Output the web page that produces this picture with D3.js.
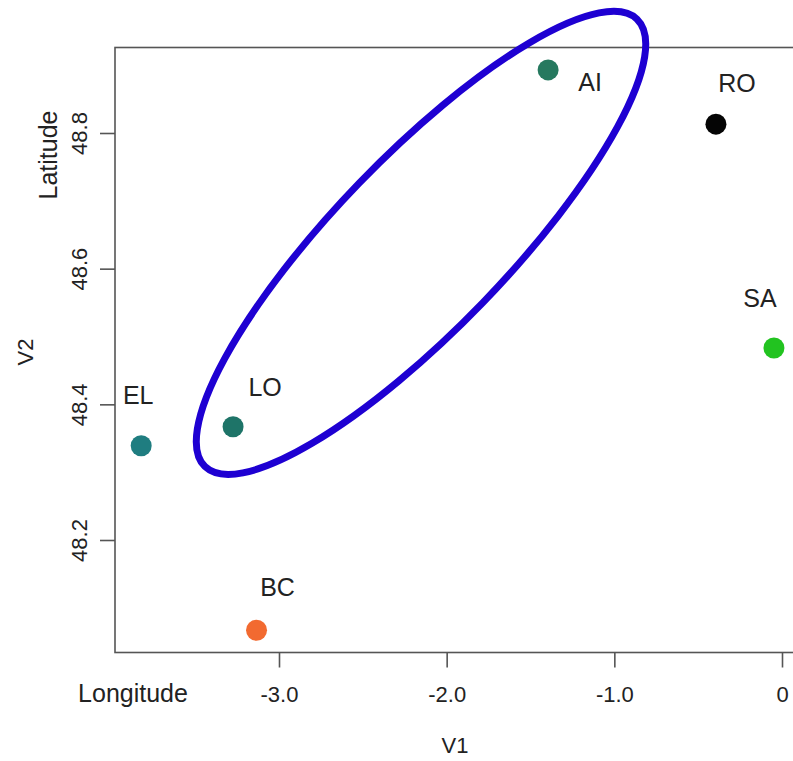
<!DOCTYPE html>
<html>
<head>
<meta charset="utf-8">
<script src="https://cdn.jsdelivr.net/npm/d3@7"></script>
<style>
  body { margin: 0; background: #fff; }
  text { font-family: "Liberation Sans", Arial, sans-serif; fill: #222; }
</style>
</head>
<body>
<div id="chart"></div>
<script>
// Data
const sites = ["AI", "RO", "SA", "LO", "EL", "BC"];
const longitude = [-1.395, -0.394, -0.048, -3.274, -3.822, -3.134];
const latitude = [48.893, 48.813, 48.483, 48.367, 48.339, 48.067];
const siteColors = ["#26795f", "#050505", "#22c320", "#1e7468", "#1f7d80", "#f26a30"];

const xTicks = [-3, -2, -1, 0];
const xTickLabels = ["-3.0", "-2.0", "-1.0", "0"];
const yTicks = [48.2, 48.4, 48.6, 48.8];
const yTickLabels = ["48.2", "48.4", "48.6", "48.8"];

// grouped sites (the ellipse), centre in data units
const groupCentre = [-2.153, 48.638];

// Dimensions
const width = 793;
const height = 761;
const frame = { left: 115, top: 47.5, right: 820, bottom: 652.5 };

const svg = d3
  .select("#chart")
  .append("svg")
  .attr("width", width)
  .attr("height", height);

// Scales
const xScale = d3.scaleLinear().domain([-3, 0]).range([279, 782]);
const yScale = d3.scaleLinear().domain([48.2, 48.8]).range([540, 133]);

// Box
svg
  .append("rect")
  .attr("x", frame.left)
  .attr("y", frame.top)
  .attr("width", frame.right - frame.left)
  .attr("height", frame.bottom - frame.top)
  .attr("fill", "none")
  .attr("stroke", "#555")
  .attr("stroke-width", 1.6);

// Axes
const xAxis = d3
  .axisBottom(xScale)
  .tickValues(xTicks)
  .tickSize(15)
  .tickFormat((d, i) => xTickLabels[i]);

const xAxisGroup = svg
  .append("g")
  .attr("transform", `translate(0, ${frame.bottom})`)
  .call(xAxis);
xAxisGroup.select(".domain").remove();
xAxisGroup.selectAll(".tick line").attr("stroke", "#555").attr("stroke-width", 1.6);
xAxisGroup
  .selectAll(".tick text")
  .attr("y", 49)
  .attr("dy", null)
  .style("font-size", "22px")
  .style("font-family", '"Liberation Sans", Arial, sans-serif')
  .attr("fill", "#222");

const yAxis = d3
  .axisLeft(yScale)
  .tickValues(yTicks)
  .tickSize(15)
  .tickFormat((d, i) => yTickLabels[i]);

const yAxisGroup = svg
  .append("g")
  .attr("transform", `translate(${frame.left}, 0)`)
  .call(yAxis);
yAxisGroup.select(".domain").remove();
yAxisGroup.selectAll(".tick line").attr("stroke", "#555").attr("stroke-width", 1.6);
yAxisGroup
  .selectAll(".tick text")
  .attr("x", null)
  .attr("dy", null)
  .attr("text-anchor", "middle")
  .attr("transform", "translate(-28, 0) rotate(-90)")
  .style("font-size", "22px")
  .style("font-family", '"Liberation Sans", Arial, sans-serif')
  .attr("fill", "#222");

// Axis titles
svg
  .append("text")
  .attr("x", 455)
  .attr("y", 753)
  .attr("text-anchor", "middle")
  .style("font-size", "22px")
  .text("V1");

svg
  .append("text")
  .attr("transform", "translate(33, 352) rotate(-90)")
  .attr("text-anchor", "middle")
  .style("font-size", "22px")
  .text("V2");

svg
  .append("text")
  .attr("x", 133)
  .attr("y", 702)
  .attr("text-anchor", "middle")
  .style("font-size", "25px")
  .text("Longitude");

svg
  .append("text")
  .attr("transform", "translate(57, 155) rotate(-90)")
  .attr("text-anchor", "middle")
  .style("font-size", "25px")
  .text("Latitude");

// Points
const points = sites.map((s, i) => ({
  site: s,
  x: longitude[i],
  y: latitude[i],
  color: siteColors[i],
}));

svg
  .append("g")
  .selectAll("circle")
  .data(points)
  .join("circle")
  .attr("cx", (d) => xScale(d.x))
  .attr("cy", (d) => yScale(d.y))
  .attr("r", 10.5)
  .attr("fill", (d) => d.color);

// label placement relative to each point (pixels)
const labelOffset = {
  AI: [42, 21],
  RO: [21, -32],
  SA: [-14, -41],
  LO: [32, -31],
  EL: [-3, -42],
  BC: [21, -34],
};

svg
  .append("g")
  .selectAll("text")
  .data(points)
  .join("text")
  .attr("x", (d) => xScale(d.x) + labelOffset[d.site][0])
  .attr("y", (d) => yScale(d.y) + labelOffset[d.site][1])
  .attr("text-anchor", "middle")
  .style("font-size", "25px")
  .text((d) => d.site);

// Ellipse round LO and AI
svg
  .append("ellipse")
  .attr("cx", 0)
  .attr("cy", 0)
  .attr("rx", 311)
  .attr("ry", 86)
  .attr(
    "transform",
    `translate(${xScale(groupCentre[0])}, ${yScale(groupCentre[1])}) rotate(-46)`
  )
  .attr("fill", "none")
  .attr("stroke", "#1e00d2")
  .attr("stroke-width", 7);
</script>
</body>
</html>
